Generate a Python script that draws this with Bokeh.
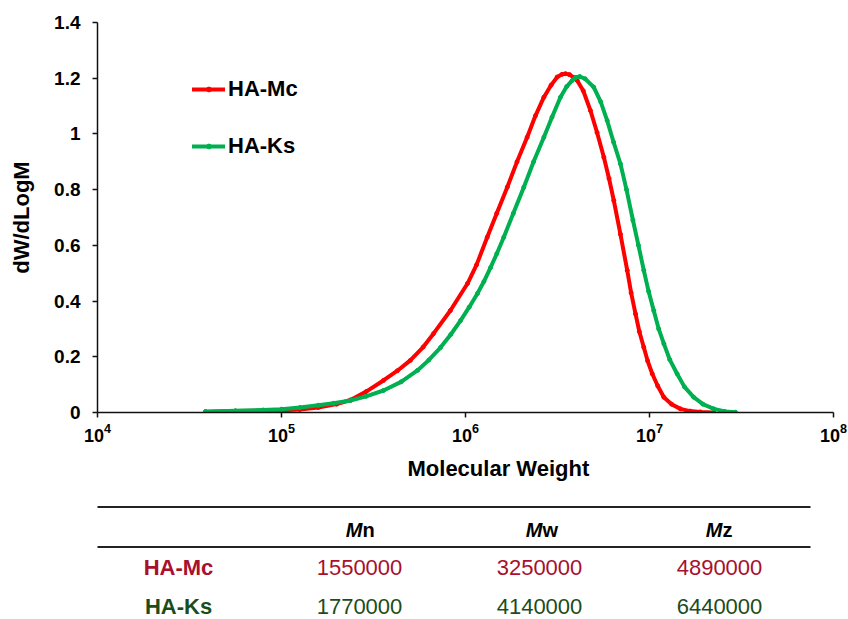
from bokeh.plotting import figure
from bokeh.models import (Range1d, FixedTicker, LogTickFormatter, Legend, LegendItem,
                          ColumnDataSource, Title)
from bokeh.layouts import column
from bokeh.embed import file_html
from bokeh.resources import INLINE
from bokeh.core.properties import value

# ---------------- data ----------------
mc_logM = [4.587, 4.75, 4.90, 5.00, 5.10, 5.20, 5.30, 5.375, 5.46, 5.554, 5.63, 5.70, 5.77,
           5.826, 5.918, 6.011, 6.06, 6.118, 6.17, 6.227, 6.28, 6.335, 6.38, 6.426, 6.465,
           6.498, 6.525, 6.543, 6.565, 6.59, 6.607, 6.64, 6.679, 6.715, 6.752, 6.78, 6.806,
           6.842, 6.879, 6.90, 6.924, 6.945, 6.969, 6.99, 7.015, 7.045, 7.078, 7.12, 7.168,
           7.22, 7.277, 7.35]
mc_dw = [0.003, 0.005, 0.007, 0.008, 0.011, 0.018, 0.030, 0.045, 0.075, 0.115, 0.150, 0.187,
         0.235, 0.283, 0.366, 0.463, 0.53, 0.629, 0.715, 0.809, 0.90, 0.988, 1.065, 1.132,
         1.175, 1.204, 1.214, 1.216, 1.213, 1.202, 1.192, 1.155, 1.084, 1.005, 0.916, 0.84,
         0.761, 0.640, 0.51, 0.43, 0.354, 0.29, 0.234, 0.185, 0.139, 0.095, 0.055, 0.03,
         0.013, 0.005, 0.002, 0.0]

ks_logM = [4.587, 4.75, 4.90, 5.00, 5.10, 5.20, 5.283, 5.375, 5.46, 5.554, 5.65, 5.739, 5.80,
           5.864, 5.92, 5.973, 6.02, 6.065, 6.10, 6.136, 6.17, 6.208, 6.26, 6.317, 6.37,
           6.426, 6.47, 6.516, 6.55, 6.58, 6.60, 6.621, 6.65, 6.697, 6.735, 6.77, 6.805,
           6.842, 6.875, 6.91, 6.94, 6.969, 6.995, 7.023, 7.05, 7.078, 7.11, 7.15, 7.19,
           7.24, 7.29, 7.35, 7.41, 7.467]
ks_dw = [0.003, 0.006, 0.009, 0.012, 0.018, 0.026, 0.033, 0.043, 0.058, 0.079, 0.11, 0.151,
         0.188, 0.233, 0.28, 0.33, 0.378, 0.427, 0.47, 0.52, 0.57, 0.629, 0.715, 0.809,
         0.90, 0.988, 1.06, 1.132, 1.17, 1.192, 1.203, 1.206, 1.198, 1.168, 1.115, 1.048,
         0.97, 0.893, 0.80, 0.69, 0.60, 0.51, 0.435, 0.366, 0.30, 0.247, 0.19, 0.139,
         0.092, 0.055, 0.030, 0.013, 0.004, 0.001]

series_names = ["HA-Mc", "HA-Ks"]
series_colors = ["#FF0000", "#00B050"]

y_ticks = [0, 0.2, 0.4, 0.6, 0.8, 1.0, 1.2, 1.4]
y_tick_labels = ["0", "0.2", "0.4", "0.6", "0.8", "1", "1.2", "1.4"]
x_ticks = [1e4, 1e5, 1e6, 1e7, 1e8]

table_headers_main = ["M", "M", "M"]
table_headers_sub = ["n", "w", "z"]
mc_values = [1550000, 3250000, 4890000]
ks_values = [1770000, 4140000, 6440000]
row_colors = ["#A8102E", "#1B4D1B"]

FONT = "Liberation Sans"

# ---------------- main chart ----------------
p = figure(width=848, height=490, x_axis_type="log",
           x_range=Range1d(1e4, 1e8), y_range=Range1d(0, 1.4),
           output_backend="svg", toolbar_location=None,
           min_border_left=97, min_border_right=15, min_border_top=22, min_border_bottom=78)
p.outline_line_color = None
p.grid.visible = False

src_mc = ColumnDataSource(dict(x=[10 ** v for v in mc_logM], y=mc_dw))
src_ks = ColumnDataSource(dict(x=[10 ** v for v in ks_logM], y=ks_dw))
renderers = []
for src, col in zip([src_mc, src_ks], series_colors):
    lr = p.line("x", "y", source=src, line_color=col, line_width=4,
                line_join="round", line_cap="round")
    dr = p.scatter("x", "y", source=src, marker="circle", size=4,
                   fill_color=col, line_color=col)
    renderers.append((lr, dr))

# axes
for ax in (p.xaxis[0], p.yaxis[0]):
    ax.axis_line_color = "#111111"
    ax.axis_line_width = 1.5
    ax.major_tick_line_color = "#111111"
    ax.major_tick_line_width = 1.5
    ax.major_tick_in = 0
    ax.major_tick_out = 5
    ax.minor_tick_line_color = None
    ax.major_label_text_font = FONT
    ax.major_label_text_font_style = "bold"
    ax.major_label_text_font_size = "18px"
    ax.major_label_text_color = "#000000"
    ax.axis_label_text_font = FONT
    ax.axis_label_text_font_style = "bold"
    ax.axis_label_text_font_size = "22px"
    ax.axis_label_text_color = "#000000"

p.yaxis[0].ticker = FixedTicker(ticks=y_ticks)
p.yaxis[0].major_label_overrides = {t: l for t, l in zip(y_ticks, y_tick_labels)}
p.yaxis[0].major_label_text_font_size = "19px"
p.yaxis[0].major_label_standoff = 12
p.yaxis[0].axis_label = "dW/dLogM"
p.yaxis[0].axis_label_standoff = 17

p.xaxis[0].ticker = FixedTicker(ticks=x_ticks)
p.xaxis[0].formatter = LogTickFormatter()
p.xaxis[0].major_label_standoff = 5

xtitle = Title(text="Molecular Weight", align="left", offset=310, standoff=18,
               text_font=FONT, text_font_style="bold", text_font_size="22px",
               text_color="#000000")
p.add_layout(xtitle, "below")

# legend
items = [LegendItem(label=name, renderers=[lr, dr])
         for name, (lr, dr) in zip(series_names, renderers)]
legend = Legend(items=items, location=(95, 253), orientation="vertical",
                glyph_width=33, glyph_height=12, label_height=20, label_standoff=3,
                spacing=31, padding=0, margin=0, border_line_color=None,
                background_fill_alpha=0,
                label_text_font=FONT, label_text_font_style="bold",
                label_text_font_size="22px", label_text_color="#000000")
p.add_layout(legend)

# ---------------- table ----------------
# frame spans the same horizontal pixels as the chart frame; x data = page pixels
t = figure(width=848, height=129, x_range=Range1d(97, 833), y_range=Range1d(619, 490),
           output_backend="svg", toolbar_location=None,
           x_axis_location=None, y_axis_location=None,
           min_border_left=97, min_border_right=15, min_border_top=0, min_border_bottom=0)
t.outline_line_color = None
t.grid.visible = False

col_x = [359, 539, 719]
row_y = [567, 606]
t.segment(x0=[88, 88], y0=[506.5, 546.5], x1=[810, 810], y1=[506.5, 546.5],
          line_color="#222222", line_width=2)

t.text(x=[c + 3 for c in col_x], y=[529] * 3, text=table_headers_main,
       text_align="right", text_baseline="middle", text_font=value(FONT),
       text_font_style="bold italic", text_font_size="20px", text_color="#000000")
t.text(x=[c + 3 for c in col_x], y=[529] * 3, text=table_headers_sub,
       text_align="left", text_baseline="middle", text_font=value(FONT),
       text_font_style="bold", text_font_size="20px", text_color="#000000")

for i, (name, vals) in enumerate(zip(series_names, [mc_values, ks_values])):
    t.text(x=[178], y=[row_y[i]], text=[name], text_align="center", text_baseline="middle",
           text_font=value(FONT), text_font_style="bold", text_font_size="22px",
           text_color=row_colors[i])
    t.text(x=col_x, y=[row_y[i]] * 3, text=[str(v) for v in vals], text_align="center",
           text_baseline="middle", text_font=value(FONT), text_font_size="22px",
           text_color=row_colors[i])

layout = column(p, t, spacing=0)
open("out.html", "w").write(file_html(layout, INLINE))
